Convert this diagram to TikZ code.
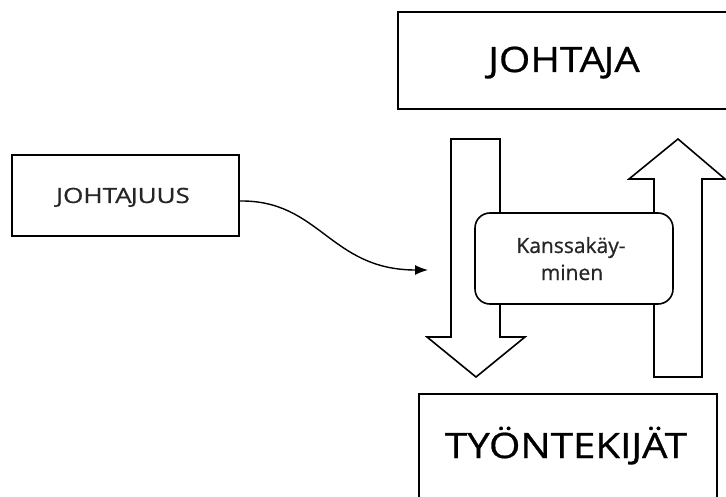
\documentclass[tikz,border=0pt]{standalone}
\usepackage{fontspec}
\setmainfont{Open Sans}
\newfontfamily\labelfont[FakeBold=0.7]{Open Sans}
\usetikzlibrary{arrows.meta}
\begin{document}
\begin{tikzpicture}[x=1pt,y=-1pt,
  box/.style={draw=black,line width=2pt,fill=white},
  blockarrow/.style={draw=black,line width=1.6pt,fill=white,line join=miter},
  bigtext/.style={font=\labelfont\fontsize{35}{38}\selectfont,anchor=base,inner sep=0pt},
  smalltext/.style={font=\labelfont\fontsize{21}{26}\selectfont,anchor=base,inner sep=0pt,text=black!85}]
\useasboundingbox (0,0) rectangle (726,497);
\clip (0,0) rectangle (726,497);
\fill[white] (0,0) rectangle (726,497);

% leader and employees boxes
\draw[box] (398,12) rectangle (740,109);
\node[bigtext] (johtaja) at (564,72) {\scalebox{1.15}[1]{JOHTA\kern-1.2pt JA}};
\draw[box] (419,394) rectangle (717,510);
\node[bigtext] (tyontekijat) at (566,458) {\scalebox{1.15}[1]{TYÖNTEKIJÄT}};

% leadership box
\node[box,minimum width=227pt,minimum height=81pt,inner sep=0pt] (johtajuus) at (125.5,195.5) {};
\node[smalltext] (johtajuusteksti) at (123,203) {\scalebox{1.24}[1]{JOHTA\kern-0.8pt JUUS}};

% downward block arrow
\draw[blockarrow] (451,139) -- (500,139) -- (500,337) -- (525,337) -- (476,377)
  -- (427,337) -- (451,337) -- cycle;
% upward block arrow
\draw[blockarrow] (654,377) -- (702,377) -- (702,179) -- (725,179) -- (678,139)
  -- (629,179) -- (654,179) -- cycle;

% interaction box in the middle
\node[draw=black,line width=1.6pt,fill=white,rounded corners=15pt,
  minimum width=198pt,minimum height=91pt,inner sep=0pt] (kanssa) at (574,258.5) {};
\node[smalltext] (kanssa1) at (571,253) {Kanssakäy-};
\node[smalltext] (kanssa2) at (572,280) {minen};

% curved connector
\coordinate (tip) at (428,270);
\draw[line width=1.4pt,-{Latex[length=13pt,width=10pt]}]
  (johtajuus.east |- 0,201) .. controls (320,200) and (330,270) .. (tip);
\end{tikzpicture}
\end{document}
